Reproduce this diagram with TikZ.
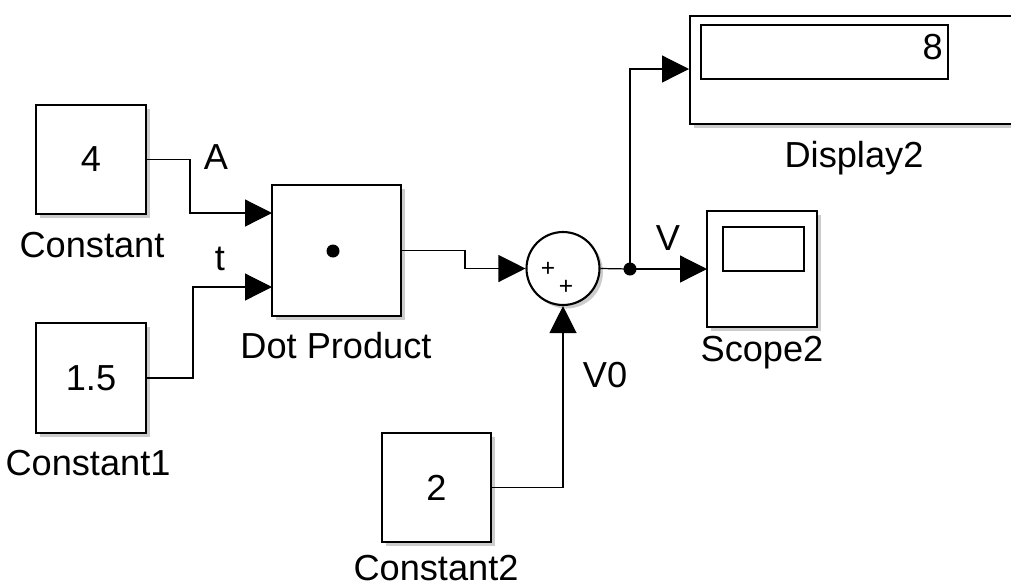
\documentclass[tikz,border=0pt]{standalone}
\usepackage{fontspec}
\setmainfont{Liberation Sans}
\usetikzlibrary{arrows.meta, positioning, shadows}

\tikzset{
  blk/.style={draw, line width=1.2pt, fill=white, inner sep=0pt,
              font=\fontsize{20.6}{24}\selectfont,
              drop shadow={shadow xshift=2pt, shadow yshift=-2pt, opacity=0.4}},
  sig/.style={-{Triangle[length=0.54cm, width=0.54cm]}, line width=0.7pt},
  wire/.style={line width=0.7pt},
  lbl/.style={font=\fontsize{20.6}{24}\selectfont, inner sep=0pt, anchor=base},
}

\begin{document}
\begin{tikzpicture}[x=0.02cm, y=-0.02cm]
  \useasboundingbox (0,0) rectangle (1011,586);

  % blocks
  \node[blk, minimum width=2.2cm, minimum height=2.18cm] (const) at (91,159.5) {4};
  \node[blk, minimum width=2.2cm, minimum height=2.2cm] (const1) at (91,378) {1.5};
  \node[blk, minimum width=2.18cm, minimum height=2.18cm] (const2) at (436.5,487.5) {2};
  \node[blk, minimum width=2.58cm, minimum height=2.62cm] (dotprod) at (336.5,250.5) {};
  \fill (333,251) circle (6.5);
  \node[blk, circle, minimum size=1.46cm] (sum) at (563,268.5) {};
  \node[font=\fontsize{14}{14}\selectfont, inner sep=0pt] (plus1) at (548,269) {+};
  \node[font=\fontsize{14}{14}\selectfont, inner sep=0pt] (plus2) at (566,287) {+};
  \node[blk, minimum width=2.2cm, minimum height=2.32cm] (scope) at (762,269) {};
  \draw[line width=0.9pt] (723,227) rectangle (804,271);
  \node[blk, anchor=north west, minimum width=7.0cm, minimum height=2.16cm] (display) at (689,15) {};
  \draw[line width=0.9pt] (701,25) rectangle (948,79);
  \node[font=\fontsize{20.6}{24}\selectfont, inner sep=0pt, anchor=base east] (dispval) at (943,59) {8};

  % block names
  \node[lbl] (constname) at (92,257) {Constant};
  \node[lbl] (const1name) at (88,475) {Constant1};
  \node[lbl] (const2name) at (436,580) {Constant2};
  \node[lbl] (dotname) at (336,358) {Dot Product};
  \node[lbl] (scopename) at (762,361) {Scope2};
  \node[lbl] (displayname) at (854,167) {Display2};

  % ports
  \coordinate (dotA) at (272,213);
  \coordinate (dotT) at (272,287);
  \coordinate (scopein) at (707,269);
  \coordinate (dispin) at (689,69);
  \coordinate (branch) at (630,269);

  % signals
  \draw[sig] (const.east) -- ++(43,0) |- (dotA);
  \draw[sig] (const1.east) -- ++(46,0) |- (dotT);
  \draw[sig] (dotprod.east) -- ++(63,0) |- (sum.west);
  \draw[sig] (const2.east) -| (sum.south);
  \draw[wire] (sum.east) -- (branch);
  \draw[sig] (branch) -- (scopein);
  \draw[sig] (branch) |- (dispin);
  \fill (branch) circle (6.5);

  % signal names
  \node[lbl] (lblA) at (216,169) {A};
  \node[lbl] (lblt) at (220,270) {t};
  \node[lbl] (lblV) at (668,250) {V};
  \node[lbl] (lblV0) at (605,387) {V0};
\end{tikzpicture}
\end{document}
